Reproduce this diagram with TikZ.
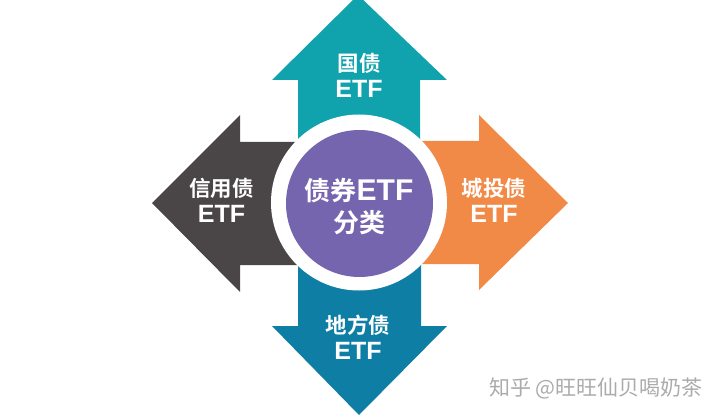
\documentclass[tikz,border=0pt]{standalone}
\usepackage{fontspec}
\setmainfont{Liberation Sans}
\newfontfamily\cjk{Noto Sans CJK SC}[BoldFont={Noto Sans CJK SC Bold}]
\definecolor{cteal}{HTML}{10A2AD}
\definecolor{cdark}{HTML}{4A4546}
\definecolor{corange}{HTML}{F08A46}
\definecolor{cblue}{HTML}{0F7EA5}
\definecolor{cpurple}{HTML}{7565AE}
\definecolor{cmark}{HTML}{ABABAB}
\newcommand{\armcn}[1]{{\cjk\bfseries\fontsize{21.5}{26}\selectfont #1}}
\newcommand{\armen}[1]{{\bfseries\fontsize{25}{26}\selectfont #1}}
\newcommand{\hubcn}[1]{{\cjk\bfseries\fontsize{26}{32}\selectfont #1}}
\newcommand{\huben}[1]{{\bfseries\fontsize{30}{32}\selectfont #1}}
\tikzset{
  arrowshape/.style={draw=none},
  armlabel/.style={text=white,align=center,inner sep=0pt,font=\fontsize{21.5}{26}\selectfont},
  hublabel/.style={text=white,align=center,inner sep=0pt,font=\fontsize{26}{32}\selectfont},
  markstyle/.style={text=cmark,font=\cjk\fontsize{21}{24}\selectfont,inner sep=0pt}
}
\begin{document}
\begin{tikzpicture}[x=1pt,y=-1pt]
\useasboundingbox (0,0) rectangle (720,417);
\begin{scope}
\clip (0,0) rectangle (720,417);
\fill[arrowshape,cteal] (358,-5) -- (447,80) -- (420,80) -- (420,210) -- (298,210) -- (298,80) -- (272,80) -- cycle;
\fill[arrowshape,cblue] (359,415) -- (447,326) -- (421,326) -- (421,200) -- (298,200) -- (298,326) -- (272,326) -- cycle;
\fill[arrowshape,cdark] (152,203) -- (240,115) -- (240,142) -- (360,142) -- (360,265) -- (240,265) -- (240,292) -- cycle;
\fill[arrowshape,corange] (568,203) -- (479,115) -- (479,141) -- (360,141) -- (360,264) -- (479,264) -- (479,290) -- cycle;
\end{scope}
\fill[white] (359,202.5) circle[radius=88];
\node[circle,fill=cpurple,minimum size=147pt,inner sep=0pt] (hub) at (359.5,203.5) {};
\node[hublabel] (hubtext) at (359,207) {\hubcn{债券}\huben{ETF}\\\hubcn{分类}};
\node[armlabel] (guo) at (359,75) {\armcn{国债}\\\armen{ETF}};
\node[armlabel] (xin) at (221.5,200.5) {\armcn{信用债}\\\armen{ETF}};
\node[armlabel] (cheng) at (494,200.5) {\armcn{城投债}\\\armen{ETF}};
\node[armlabel] (di) at (358,337.5) {\armcn{地方债}\\\armen{ETF}};
\node[markstyle,anchor=east] (mark) at (703,388) {知乎 @旺旺仙贝喝奶茶};
\end{tikzpicture}
\end{document}
